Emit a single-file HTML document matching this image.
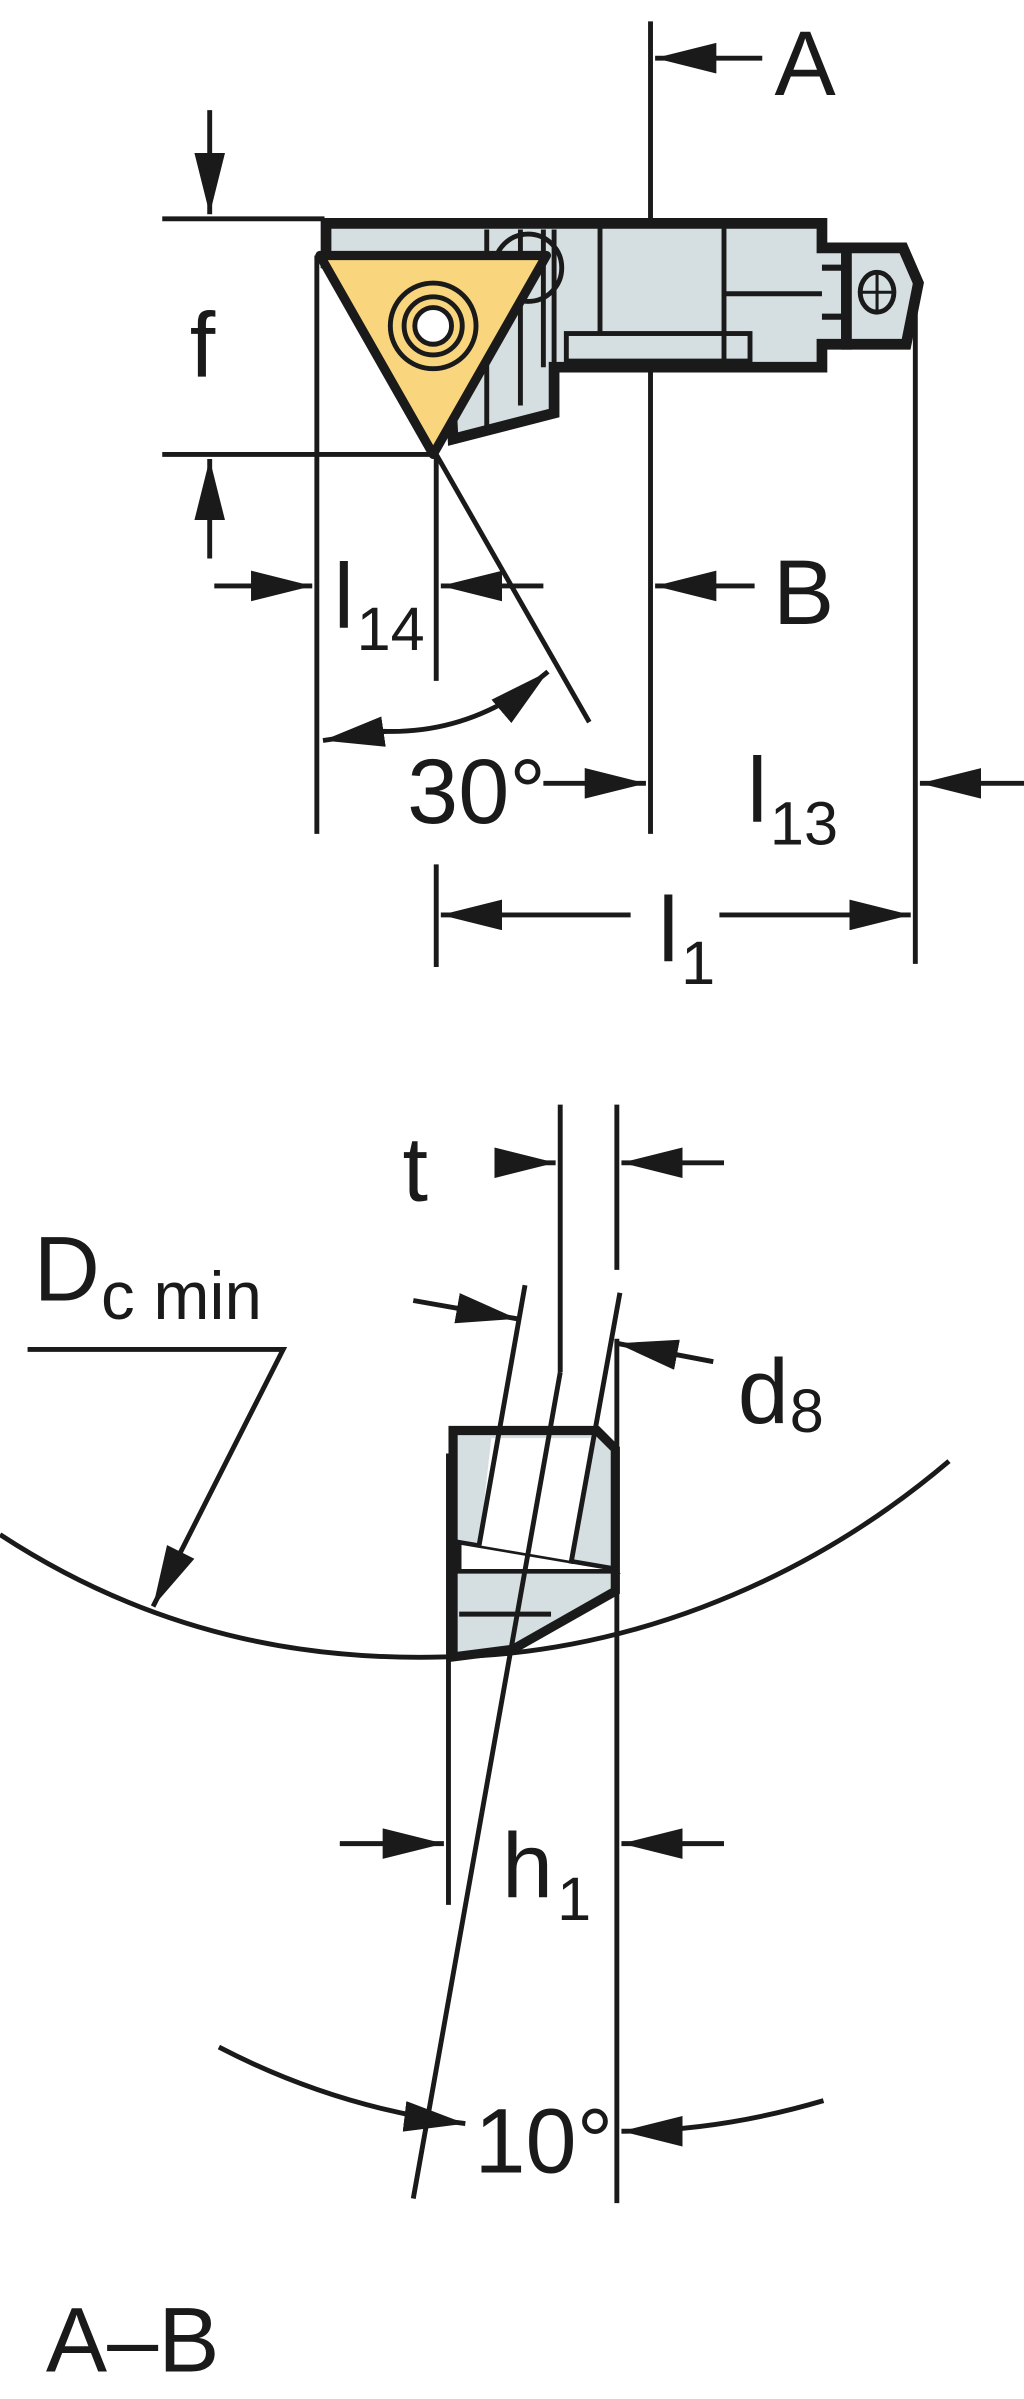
<!DOCTYPE html>
<html><head><style>
html,body{margin:0;padding:0;background:#fff;}
svg{display:block;}
text{font-family:"Liberation Sans",sans-serif;fill:#1a1a1a;}
</style></head><body>
<svg width="1024" height="2399" viewBox="0 0 669 1568" preserveAspectRatio="none" xmlns="http://www.w3.org/2000/svg">
<defs>
<marker id="ah" viewBox="0 0 40 20" refX="40" refY="10" markerWidth="40" markerHeight="20" markerUnits="userSpaceOnUse" orient="auto">
<path d="M0,0 L40,10 L0,20 z" fill="#1a1a1a"/></marker>
</defs>
<g stroke="#1a1a1a" stroke-width="3.2" fill="none">
<!-- TOP VIEW -->
<line x1="425" y1="14" x2="425" y2="545"/>
<line x1="498" y1="38" x2="428" y2="38" marker-end="url(#ah)"/>
<line x1="106" y1="143" x2="212" y2="143"/>
<line x1="106" y1="297" x2="285" y2="297"/>
<line x1="137" y1="72" x2="137" y2="140" marker-end="url(#ah)"/>
<line x1="137" y1="365" x2="137" y2="300" marker-end="url(#ah)"/>
<!-- body -->
<path d="M213,146 H537 V162 H553 V225 H537 V240 H362 V270 L296,287 L290,175 L213,172 Z" fill="#d5dee0" stroke-width="7"/>
<path d="M553,162 H590 L600,185 L592,225 H553 Z" fill="#d5dee0" stroke-width="7"/>
<line x1="537" y1="175" x2="553" y2="175" stroke-width="4"/>
<line x1="537" y1="207" x2="553" y2="207" stroke-width="4"/>
<ellipse cx="573" cy="191" rx="11" ry="13"/>
<line x1="562" y1="191" x2="584" y2="191" stroke-width="2"/>
<line x1="573" y1="178" x2="573" y2="204" stroke-width="2"/>
<line x1="392" y1="146" x2="392" y2="218"/>
<line x1="473" y1="146" x2="473" y2="240"/>
<line x1="473" y1="192" x2="537" y2="192"/>
<rect x="370" y="218" width="120" height="18"/>
<line x1="318" y1="150" x2="318" y2="280"/>
<line x1="340" y1="150" x2="340" y2="265"/>
<line x1="355" y1="150" x2="355" y2="240"/>
<line x1="362" y1="150" x2="362" y2="240"/>
<circle cx="345" cy="175" r="22"/>
<!-- insert -->
<path d="M209,167 L357,167 L283,297 Z" fill="#f9d57e" stroke-width="6" stroke-linejoin="round"/>
<circle cx="283" cy="213" r="28"/>
<circle cx="283" cy="213" r="19"/>
<circle cx="283" cy="213" r="12" fill="#fff"/>
<line x1="207" y1="167" x2="207" y2="545"/>
<line x1="285" y1="297" x2="285" y2="445"/>
<line x1="598" y1="185" x2="598" y2="630"/>
<line x1="285" y1="565" x2="285" y2="632"/>
<line x1="285" y1="297" x2="385" y2="472"/>
<line x1="140" y1="383" x2="204" y2="383" marker-end="url(#ah)"/>
<line x1="355" y1="383" x2="288" y2="383" marker-end="url(#ah)"/>
<line x1="493" y1="383" x2="428" y2="383" marker-end="url(#ah)"/>
<path d="M250,478 Q310,480 358,439" marker-end="url(#ah)"/>
<line x1="252" y1="478" x2="211" y2="484" marker-end="url(#ah)"/>
<line x1="355" y1="512" x2="422" y2="512" marker-end="url(#ah)"/>
<line x1="669" y1="512" x2="601" y2="512" marker-end="url(#ah)"/>
<line x1="412" y1="598" x2="288" y2="598" marker-end="url(#ah)"/>
<line x1="470" y1="598" x2="595" y2="598" marker-end="url(#ah)"/>
<!-- BOTTOM -->
<line x1="366" y1="722" x2="366" y2="897"/>
<line x1="403" y1="722" x2="403" y2="830"/>
<line x1="325" y1="760" x2="363" y2="760" marker-end="url(#ah)"/>
<line x1="473" y1="760" x2="406" y2="760" marker-end="url(#ah)"/>
<path d="M18,882 H185 L100,1050" marker-end="url(#ah)"/>
<path d="M0,1003 C110,1075 215,1085 290,1083 C400,1082 520,1040 620,955"/>
<path d="M296,935 H390 L402,947 V1040 L335,1078 L296,1083 Z" fill="#d5dee0" stroke-width="6"/>
<path d="M300,1008 L400,1025 L402,1027 H300 Z" fill="#fff" stroke-width="3"/>
<path d="M321,940 L313,1010 L372,1020 L386,940 Z" fill="#fff" stroke="none"/>
<line x1="300" y1="1055" x2="360" y2="1055"/>
<line x1="343" y1="840" x2="313" y2="1010"/>
<line x1="405" y1="845" x2="373" y2="1022"/>
<line x1="366" y1="897" x2="270" y2="1437"/>
<line x1="270" y1="850" x2="338" y2="862" marker-end="url(#ah)"/>
<line x1="466" y1="890" x2="403" y2="878" marker-end="url(#ah)"/>
<line x1="293" y1="950" x2="293" y2="1245"/>
<line x1="403" y1="875" x2="403" y2="1440"/>
<line x1="222" y1="1205" x2="290" y2="1205" marker-end="url(#ah)"/>
<line x1="473" y1="1205" x2="406" y2="1205" marker-end="url(#ah)"/>
<path d="M143,1338 Q220,1378 304,1388" marker-end="url(#ah)"/>
<path d="M538,1373 Q470,1393 406,1393" marker-end="url(#ah)"/>
</g>
<g font-size="60">
<text x="506" y="62">A</text>
<text x="124" y="246">f</text>
<text x="218" y="410">l</text><text x="233" y="425" font-size="40">14</text>
<text x="505" y="408">B</text>
<text x="266" y="538">30°</text>
<text x="488" y="537">l</text><text x="503" y="552" font-size="40">13</text>
<text x="430" y="628">l</text><text x="445" y="643" font-size="40">1</text>
<text x="263" y="785">t</text>
<text x="22" y="850">D</text><text x="66" y="862" font-size="44">c min</text>
<text x="482" y="930">d</text><text x="516" y="936" font-size="40">8</text>
<text x="328" y="1240">h</text><text x="364" y="1255" font-size="40">1</text>
<text x="310" y="1420">10°</text>
<text x="30" y="1550">A–B</text>
</g>
</svg>
</body></html>
